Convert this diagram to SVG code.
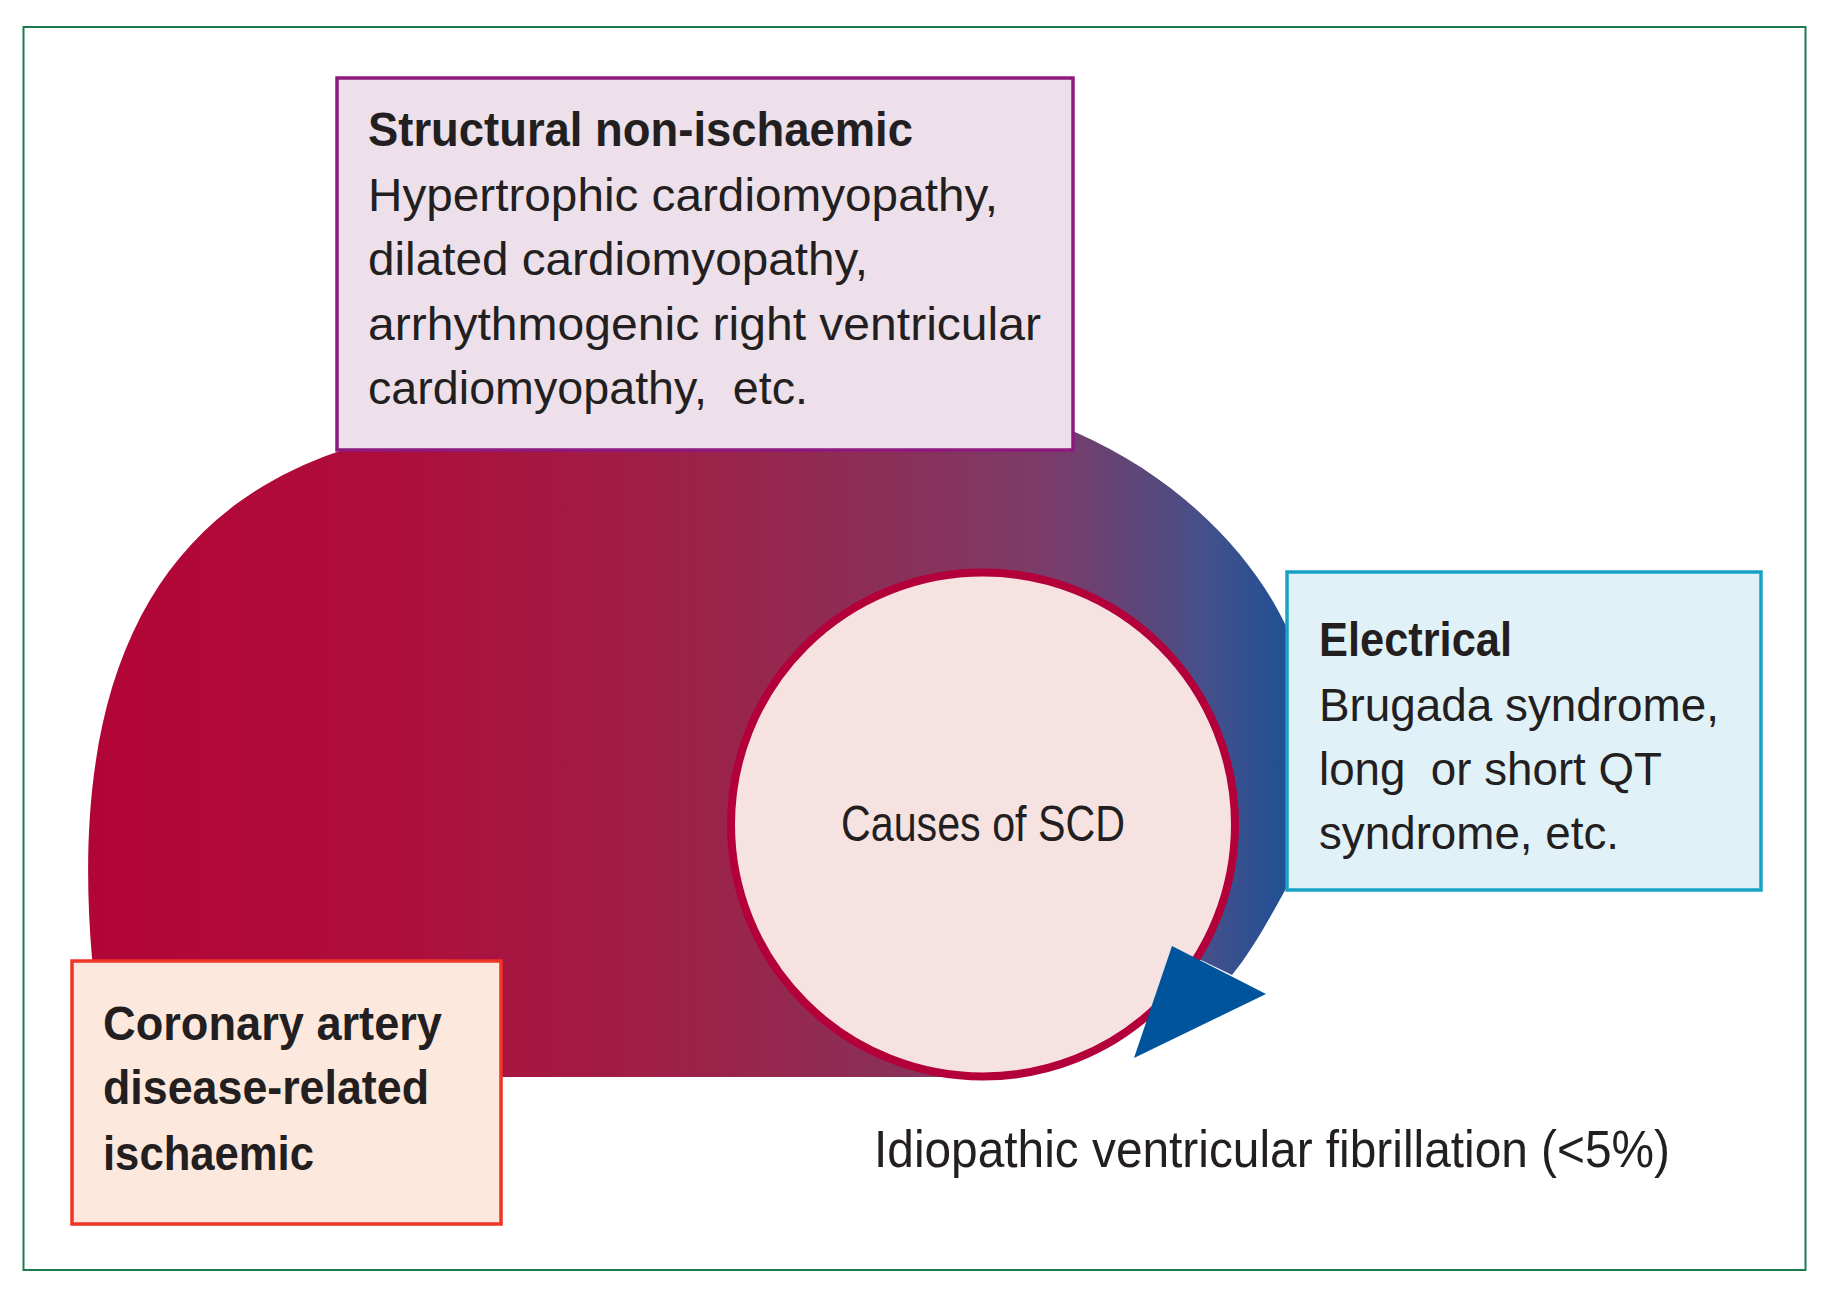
<svg xmlns="http://www.w3.org/2000/svg" width="1832" height="1290" viewBox="0 0 1832 1290">
<style>
  .t { font-family: "Liberation Sans", Arial, sans-serif; fill: #231F20; }
  .body { font-size: 47px; }
  .head { font-size: 49px; font-weight: bold; }
  .box { stroke-width: 3.5; }
</style>
<defs>
  <linearGradient id="grad" gradientUnits="userSpaceOnUse" x1="85" y1="0" x2="1300" y2="0">
    <stop offset="0" stop-color="#B20537"/>
    <stop offset="0.26" stop-color="#AE0E3C"/>
    <stop offset="0.506" stop-color="#9C2249"/>
    <stop offset="0.67" stop-color="#8A3058"/>
    <stop offset="0.79" stop-color="#7C3C6A"/>
    <stop offset="0.876" stop-color="#5A477B"/>
    <stop offset="0.918" stop-color="#47508A"/>
    <stop offset="1" stop-color="#1A5096"/>
  </linearGradient>
</defs>
<rect x="0" y="0" width="1832" height="1290" fill="#FFFFFF"/>
<rect id="frame" x="23.5" y="27" width="1782" height="1243" fill="none" stroke="#1E7A4E" stroke-width="2"/>

<g id="connectors">
  <path id="cycle-band" d="M 100 1077 L 92 958 C 70 700, 140 520, 337 452 C 573 370, 910 360, 1075 432 C 1185 480, 1255 560, 1286 626 C 1320 680, 1332 808, 1283 894 C 1266 925, 1250 953, 1232 975 L 1172 946 L 983 825 L 957 1077 Z" fill="url(#grad)"/>
</g>

<g id="node-causes">
  <circle cx="983" cy="824.5" r="252" fill="#F6E2E1" stroke="#B4003A" stroke-width="8"/>
  <text class="t" x="983" y="841" font-size="50" text-anchor="middle" textLength="284" lengthAdjust="spacingAndGlyphs">Causes of SCD</text>
</g>

<g id="arrowhead">
  <polygon points="1172,946 1266,994 1134,1058" fill="#00549C"/>
</g>

<g id="node-structural">
  <rect class="box" x="337" y="78" width="736" height="372" fill="#EDE0EA" stroke="#8E1A7E"/>
  <text class="t head" x="368" y="146" textLength="545" lengthAdjust="spacingAndGlyphs">Structural non-ischaemic</text>
  <text class="t body" x="368" y="211" textLength="630" lengthAdjust="spacingAndGlyphs">Hypertrophic cardiomyopathy,</text>
  <text class="t body" x="368" y="275" textLength="500" lengthAdjust="spacingAndGlyphs">dilated cardiomyopathy,</text>
  <text class="t body" x="368" y="340" textLength="673" lengthAdjust="spacingAndGlyphs">arrhythmogenic right ventricular</text>
  <text class="t body" x="368" y="404" textLength="440" lengthAdjust="spacingAndGlyphs" xml:space="preserve">cardiomyopathy,  etc.</text>
</g>

<g id="node-electrical">
  <rect class="box" x="1287" y="572" width="474" height="318" fill="#E1F1F8" stroke="#17A2C6"/>
  <text class="t head" x="1319" y="656" textLength="193" lengthAdjust="spacingAndGlyphs">Electrical</text>
  <text class="t body" x="1319" y="721" textLength="400" lengthAdjust="spacingAndGlyphs">Brugada syndrome,</text>
  <text class="t body" x="1319" y="785" textLength="343" lengthAdjust="spacingAndGlyphs" xml:space="preserve">long  or short QT</text>
  <text class="t body" x="1319" y="849" textLength="300" lengthAdjust="spacingAndGlyphs">syndrome, etc.</text>
</g>

<g id="node-coronary">
  <rect class="box" x="72" y="961" width="429" height="263" fill="#FDE8DE" stroke="#EE3526"/>
  <text class="t head" x="103" y="1040" textLength="339" lengthAdjust="spacingAndGlyphs">Coronary artery</text>
  <text class="t head" x="103" y="1104" textLength="326" lengthAdjust="spacingAndGlyphs">disease-related</text>
  <text class="t head" x="103" y="1170" textLength="211" lengthAdjust="spacingAndGlyphs">ischaemic</text>
</g>

<g id="node-idiopathic">
  <text class="t" x="874" y="1167" font-size="52" textLength="796" lengthAdjust="spacingAndGlyphs">Idiopathic ventricular fibrillation (&lt;5%)</text>
</g>
</svg>
